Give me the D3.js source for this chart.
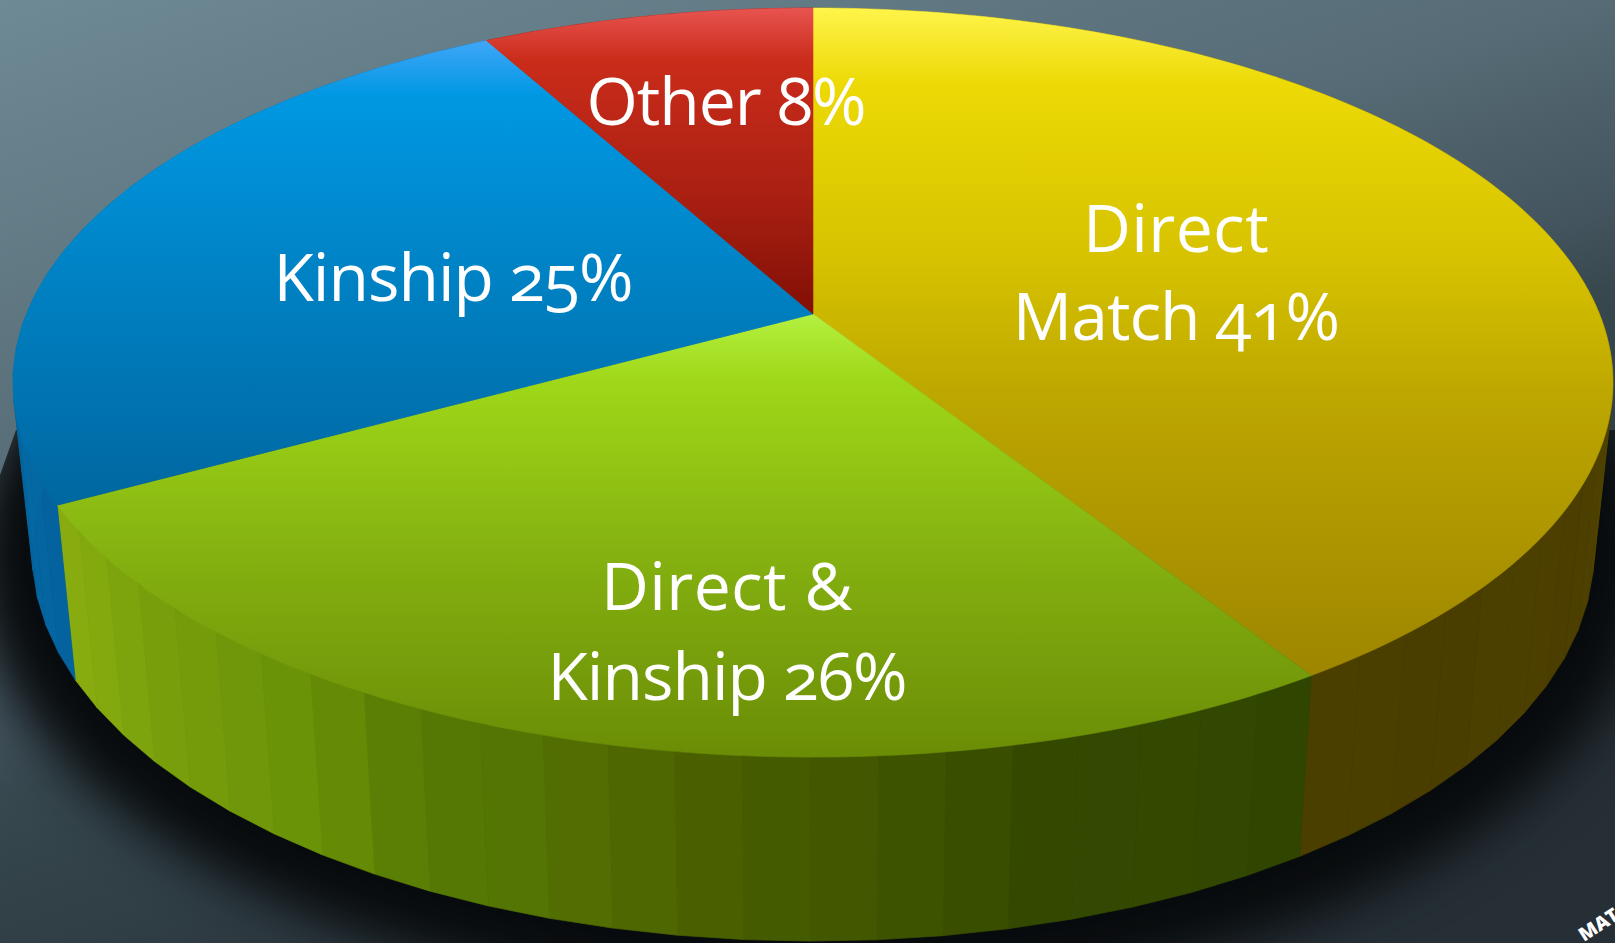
<!DOCTYPE html>
<html><head><meta charset="utf-8">
<script src="https://cdn.jsdelivr.net/npm/d3@7"></script>
<style>html,body{margin:0;padding:0;background:#2a363c;overflow:hidden}svg{display:block}</style>
</head><body><svg id="c" width="1615" height="943"></svg>
<script>
// ---- data ----
const categories = ["Direct Match", "Direct & Kinship", "Kinship", "Other"];
const shares = [41, 26, 25, 8];
const labelLines = [["Direct", "Match 41%"], ["Direct &", "Kinship 26%"], ["Kinship 25%"], ["Other 8%"]];
// ---- colours ----
const topStops = [
  [[8,"#fff44a"],[85,"#ecd905"],[260,"#d6c200"],[400,"#bca600"],[670,"#9e8600"]],
  [[314,"#b4f040"],[380,"#9fd818"],[560,"#84b010"],[760,"#6a8c06"]],
  [[42,"#3ea6f8"],[95,"#0098e2"],[300,"#007fc0"],[510,"#00669f"]],
  [[8,"#e85450"],[60,"#ca2c1a"],[200,"#a81f12"],[314,"#820f05"]]
];
const sideStops = [
  ["#5e5200","#584c00","#5a4800","#524800","#4c3f00","#4a3e00"],
  ["#304600","#364a00","#4a6000","#577a04","#749c0a","#86aa10"],
  ["#04639f","#05679f","#0668a3","#0769a8"],
  ["#7a1206","#7a1206"]
];
const bandShade = [0, .012, .012, -.01, -.01, .018, .018, 0, -.012, -.012];
const bgStops = [[0,"#6e8a95"],[.34,"#566b75"],[.48,"#43545e"],[.53,"#37484f"],[.8,"#262f36"]];
// ---- layout ----
const W = 1615, H = 943, cx = 813, cy = 314;
const persp = -0.183, spanY = 362, spanX = 786.5;
const baseScaleX = 0.976, baseScaleY = 1.037, baseShiftY = 156;
const fontPx = 66;
const labelPos = [[1176,[252,340]],[727,[610,700]],[453,[301]],[726,[125]]];

function topPt(theta){
  const X = Math.sin(theta), Y = -Math.cos(theta), d = 1 + persp * Y;
  return [cx + spanX * X / d, cy + spanY * Y / d];
}
function basePt(theta){
  const p = topPt(theta);
  return [cx + (p[0]-cx) * baseScaleX, baseShiftY + baseScaleY * p[1]];
}
const svg = d3.select("#c");
const defs = svg.append("defs");
const line = d3.line();
const arcs = d3.pie().sort(null)(shares);

function grad(id, stops, x1, y1, x2, y2){
  const g = defs.append("linearGradient").attr("id", id).attr("gradientUnits","userSpaceOnUse")
    .attr("x1",x1).attr("y1",y1).attr("x2",x2).attr("y2",y2);
  stops.forEach(s => g.append("stop").attr("offset", s[0]).attr("stop-color", s[1]));
}
grad("bg", bgStops, 0, 0, 435, 1367);
defs.append("filter").attr("id","blur").attr("x","-30%").attr("y","-30%").attr("width","160%").attr("height","160%")
  .attr("color-interpolation-filters","sRGB")
  .append("feGaussianBlur").attr("stdDeviation", 26);
defs.append("clipPath").attr("id","shadowClip").append("polygon")
  .attr("points", [[0,475],[16,430],[W,430],[W,H],[0,H]].map(p => p.join(",")).join(" "));

svg.append("rect").attr("width",W).attr("height",H).attr("fill","url(#bg)");

// shadow from the base rim
const ring = d3.range(0, 361, 2).map(a => a * Math.PI / 180);
const visibleRing = ring.map(basePt);
svg.append("g").attr("clip-path","url(#shadowClip)").append("path").attr("d", line(visibleRing)+"Z")
  .attr("fill","#080b0d").attr("stroke","#080b0d").attr("stroke-width",120).attr("filter","url(#blur)");

// side wall facets
const step = 4 * Math.PI / 180;
arcs.forEach((a, i) => {
  const scale = d3.scaleLinear()
    .domain(sideStops[i].map((_, j) => j / (sideStops[i].length - 1)))
    .range(sideStops[i]).interpolate(d3.interpolateRgb);
  const n = Math.max(1, Math.round((a.endAngle - a.startAngle) / step));
  const facets = d3.range(n);
  const shade = j => {
    const c = d3.hsl(scale(j / Math.max(1, n - 1)));
    c.l *= 1 + bandShade[j % bandShade.length];
    return c.formatHex();
  };
  svg.append("g").selectAll("path").data(facets).join("path")
    .attr("d", j => {
      const t0 = a.startAngle + (a.endAngle - a.startAngle) * j / n;
      const t1 = a.startAngle + (a.endAngle - a.startAngle) * (j + 1) / n;
      return line([topPt(t0), topPt(t1), basePt(t1), basePt(t0)]) + "Z";
    })
    .attr("fill", shade).attr("stroke", shade).attr("stroke-width", 0.7);
});

// top face
arcs.forEach((a, i) => {
  const ys = topStops[i].map(s => s[0]);
  const y0 = ys[0], y1 = ys[ys.length - 1];
  grad("top" + i, topStops[i].map(s => [(s[0]-y0)/(y1-y0), s[1]]), 0, y0, 0, y1);
  const pts = d3.range(0, 121).map(j => topPt(a.startAngle + (a.endAngle - a.startAngle) * j / 120));
  svg.append("path").datum(categories[i])
    .attr("d", line([[cx, cy], ...pts]) + "Z")
    .attr("fill", `url(#top${i})`)
    .attr("stroke", `url(#top${i})`).attr("stroke-width", 0.6);
});

// labels
labelLines.forEach((lines, i) => {
  lines.forEach((t, k) => {
    svg.append("text").attr("x", labelPos[i][0]).attr("y", labelPos[i][1][k])
      .attr("text-anchor","middle").attr("fill","#fff")
      .style("font-family","'Open Sans', Lato, sans-serif").style("font-size", fontPx + "px")
      .style("letter-spacing", /\d/.test(t) ? "-1px" : "0.4px")
      .style("font-feature-settings","'onum' 1").style("font-variant-numeric","oldstyle-nums")
      .text(t);
  });
});
svg.append("text").attr("transform","translate(1584,942) rotate(-33)").attr("fill","#fff")
  .style("font-family","'Open Sans', sans-serif").style("font-weight",800).style("font-size","19px").text("MAT");
</script></body></html>
